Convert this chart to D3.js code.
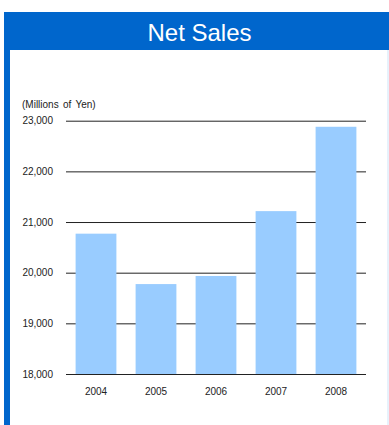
<!DOCTYPE html>
<html>
<head>
<meta charset="utf-8">
<script src="https://cdn.jsdelivr.net/npm/d3@7"></script>
<style>
  html, body { margin: 0; padding: 0; background: #fff; }
  svg { display: block; }
</style>
</head>
<body>
<svg id="chart" width="389" height="425"></svg>
<script>
const years = ["2004", "2005", "2006", "2007", "2008"];
const netSales = [20770, 19775, 19935, 21215, 22880];
const tickValues = [18000, 19000, 20000, 21000, 22000, 23000];
const titleText = "Net Sales";
const unitText = "(Millions of Yen)";

const svg = d3.select("#chart");
const font = "'Liberation Sans', Arial, sans-serif";

// Panel frame: blue header band, thick left edge, thin right edge
svg.append("rect").attr("x", 4).attr("y", 12).attr("width", 385).attr("height", 38).attr("fill", "#0066cc");
svg.append("rect").attr("x", 4).attr("y", 50).attr("width", 6).attr("height", 375).attr("fill", "#0066cc");
svg.append("rect").attr("x", 387.5).attr("y", 50).attr("width", 1).attr("height", 375).attr("fill", "#cfe3f7");

svg.append("text")
  .attr("x", 199.5).attr("y", 40.5)
  .attr("text-anchor", "middle")
  .attr("fill", "#fff")
  .attr("font-family", font)
  .attr("font-size", 24)
  .text(titleText);

const x = d3.scaleBand().domain(years).range([66, 366]).paddingInner(0.32).paddingOuter(0.16);
const y = d3.scaleLinear().domain([18000, 23000]).range([374, 120.7]);

// Horizontal gridlines
svg.append("g")
  .attr("transform", "translate(66,0)")
  .call(d3.axisRight(y).tickValues(tickValues).tickSize(300).tickFormat(""))
  .call(g => g.select(".domain").remove())
  .call(g => g.selectAll("line").attr("stroke", "#222").attr("stroke-width", 1));

// Value labels
svg.append("g")
  .attr("transform", "translate(66,0)")
  .call(d3.axisLeft(y).tickValues(tickValues).tickSize(0).tickPadding(13).tickFormat(d3.format(",")))
  .call(g => g.select(".domain").remove())
  .call(g => g.selectAll("text").attr("font-family", font).attr("font-size", 10).attr("fill", "#222"));

// Bars
svg.append("g").selectAll("rect")
  .data(years)
  .join("rect")
  .attr("x", d => x(d))
  .attr("width", x.bandwidth())
  .attr("y", (d, i) => y(netSales[i]))
  .attr("height", (d, i) => y(18000) - y(netSales[i]))
  .attr("fill", "#99ccff");

// Baseline over the bars
svg.append("line")
  .attr("x1", 66).attr("x2", 366)
  .attr("y1", Math.round(y(18000)) + 0.5).attr("y2", Math.round(y(18000)) + 0.5)
  .attr("stroke", "#222");

// Category labels
svg.append("g")
  .attr("transform", "translate(0,374)")
  .call(d3.axisBottom(x).tickSize(0).tickPadding(14))
  .call(g => g.select(".domain").remove())
  .call(g => g.selectAll("text").attr("font-family", font).attr("font-size", 10).attr("fill", "#222"));

svg.append("text")
  .attr("x", 22).attr("y", 108)
  .attr("font-family", font)
  .attr("font-size", 10)
  .attr("fill", "#222")
  .attr("word-spacing", 1.5)
  .text(unitText);
</script>
</body>
</html>
